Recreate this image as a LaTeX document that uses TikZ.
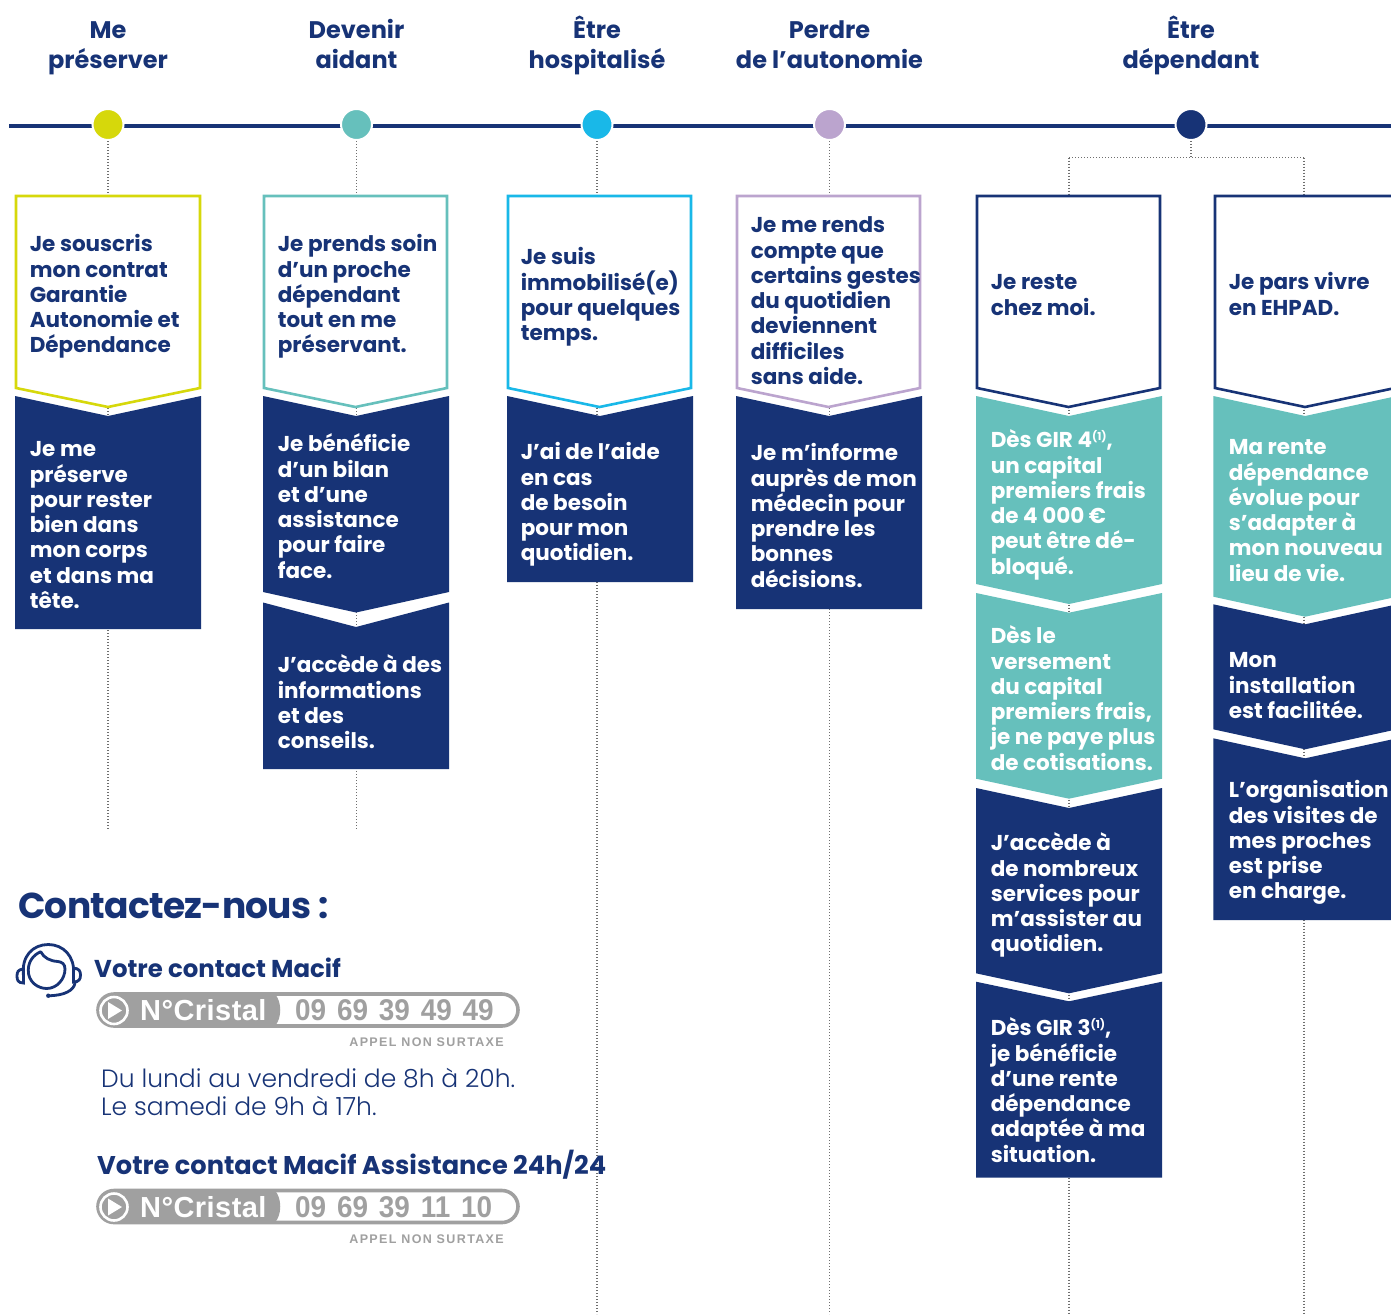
\documentclass[tikz,border=0pt]{standalone}
\usepackage{fontspec}
\setmainfont{Poppins}
\newfontfamily\hd{Poppins}
\newfontfamily\hdt[LetterSpace=-2]{Poppins}
\newfontfamily\lt{Poppins Light}
\newfontfamily\arn[LetterSpace=1.5]{Liberation Sans}
\newfontfamily\ard[WordSpace=1.4,FakeStretch=0.93]{Liberation Sans}
\newfontfamily\arsp[LetterSpace=11]{Liberation Sans}
\definecolor{navy}{HTML}{173376}
\definecolor{cyel}{HTML}{D6D80B}
\definecolor{cteal}{HTML}{66C0BC}
\definecolor{ccyan}{HTML}{19B8E8}
\definecolor{clil}{HTML}{BBA4CE}
\definecolor{cgry}{HTML}{A0A0A0}
\definecolor{cdot}{HTML}{6E6E6E}
\tikzset{
  x=1pt,y=-1pt,
  txt/.style={anchor=north west,inner sep=0pt,align=left,font={\hd\bfseries\fontsize{21.5}{25.3}\selectfont}},
  hdr/.style={anchor=north,inner sep=0pt,align=center,font={\hd\bfseries\fontsize{24}{30}\selectfont},text=navy},
  dotl/.style={cdot,line width=1.1pt,dash pattern=on 1.1pt off 1.9pt},
  mk/.style={circle,inner sep=0pt,minimum size=31pt,draw=white,line width=2pt},
}
\newcommand\outl[7]{%
  \draw[#4,line width=2.6pt,fill=white,line join=miter] (#2,196)--(#3,196)--(#3,388)--({(#2+#3)/2},407)--(#2,388)--cycle;
  \coordinate (#1t) at ({(#2+#3)/2},196);
  \node[txt,text=navy] (#1) at ({#6-0.4},{#5-17.5}) {\rule{0pt}{18pt}#7};}
\newcommand\sol[9]{%
  \fill[#4] (#2,#5)--({(#2+#3)/2},#6)--(#3,#5)--(#3,#7)--({(#2+#3)/2},#8)--(#2,#7)--cycle;
  \coordinate (#1b) at ({(#2+#3)/2},#8);
  \def\tname{#1}\def\tbase{#9}\soltext}
\newcommand\soltext[2]{\node[txt,text=white] (\tname) at ({#1-0.4},{\tbase-17.5}) {\rule{0pt}{18pt}#2};}
\newcommand\sq{\raisebox{7pt}[0pt][0pt]{\fontsize{11}{11}\selectfont(1)}}
\newcommand\pill[3]{%
  \draw[cgry,line width=3.6pt,fill=white,rounded corners=16pt] (98,#1) rectangle (518,{#1+32});
  \fill[cgry,rounded corners=16pt] (98,#1) -- (98,{#1+32}) -- (200,{#1+32}) -- (200,#1) -- cycle;
  \fill[cgry] (190,#1) -- (275,#1) .. controls (282,{#1+8}) and (282,{#1+24}) .. (275,{#1+32}) -- (190,{#1+32}) -- cycle;
  \draw[white,line width=2.6pt] (114,{#1+16.5}) circle (13.5);
  \fill[white] (108,{#1+8}) -- (122,{#1+16.5}) -- (108,{#1+25}) -- cycle;
  \node[inner sep=0,anchor=base west,text=white,font={\arn\bfseries\fontsize{29}{30}\selectfont}] (#3a) at (140,{#1+26.5}) {N°Cristal};
  \node[inner sep=0,anchor=base west,text=cgry,font={\ard\bfseries\fontsize{30}{30}\selectfont}] (#3b) at (295,{#1+26.5}) {#2};
  \node[inner sep=0,anchor=base east,text=cgry,font={\arsp\bfseries\fontsize{12.5}{13}\selectfont}] (#3c) at (504,{#1+52.5}) {APPEL NON SURTAXE};}
\begin{document}
\begin{tikzpicture}
\useasboundingbox (0,0) rectangle (1391,1314);
\clip (0,0) rectangle (1391,1314);
\fill[white] (0,0) rectangle (1391,1314);
\coordinate (tl0) at (9,125.5);
\coordinate (tl1) at (1391,125.5);
\node[mk] (m1) at (108,124.5) {};
\node[mk] (m2) at (356.5,124.5) {};
\node[mk] (m3) at (597,124.5) {};
\node[mk] (m4) at (829.5,124.5) {};
\node[mk] (m5) at (1191,124.5) {};
\coordinate (j5) at (1191,157.5);
\coordinate (j5a) at (1069,157.5);
\coordinate (j5b) at (1304,157.5);
\coordinate (e1) at (108,830);
\coordinate (e2) at (356.5,830);
\coordinate (e3) at (597,1314);
\coordinate (e4) at (829.5,1314);
\coordinate (e5) at (1069,1314);
\coordinate (e6) at (1304,1314);
\draw[dotl] (m1) -- (e1);
\draw[dotl] (m2) -- (e2);
\draw[dotl] (m3) -- (e3);
\draw[dotl] (m4) -- (e4);
\draw[dotl] (m5) -- (j5) (j5a) -- (j5b) (j5a) -- (e5) (j5b) -- (e6);
\draw[navy,line width=4pt] (tl0) -- (tl1);
\node[mk,fill=cyel] at (m1) {};
\node[mk,fill=cteal] at (m2) {};
\node[mk,fill=ccyan] at (m3) {};
\node[mk,fill=clil] at (m4) {};
\node[mk,fill=navy] at (m5) {};
% headers
\node[hdr] (h1) at (108,12) {\rule{0pt}{26pt}Me\\préserver};
\node[hdr] (h2) at (356.5,12) {\rule{0pt}{26pt}Devenir\\aidant};
\node[hdr] (h3) at (597,12) {\rule{0pt}{26pt}Être\\hospitalisé};
\node[hdr] (h4) at (829.5,12) {\rule{0pt}{26pt}Perdre\\de l’autonomie};
\node[hdr] (h5) at (1191,12) {\rule{0pt}{26pt}Être\\dépendant};
% column 1
\outl{a1}{16}{200}{cyel}{251}{30}{Je souscris\\mon contrat\\Garantie\\Autonomie et\\Dépendance}
\sol{a2}{15}{201}{navy}{396}{416}{629}{629}{456}{30}{Je me\\préserve\\pour rester\\bien dans\\mon corps\\et dans ma\\tête.}
% column 2
\outl{b1}{264}{447}{cteal}{251}{278}{Je prends soin\\d’un proche\\dépendant\\tout en me\\préservant.}
\sol{b2}{263}{449}{navy}{396}{416}{592}{612.5}{451}{278}{Je bénéficie\\d’un bilan\\et d’une\\assistance\\pour faire\\face.}
\sol{b3}{263}{449}{navy}{602.5}{627}{769}{769}{672}{278}{J’accède à des\\informations\\et des\\conseils.}
% column 3
\outl{d1}{508}{691}{ccyan}{264}{521}{Je suis\\immobilisé(e)\\pour quelques\\temps.}
\sol{d2}{507}{693}{navy}{396}{416}{582}{582}{459}{521}{J’ai de l’aide\\en cas\\de besoin\\pour mon\\quotidien.}
% column 4
\outl{f1}{737}{920}{clil}{232}{751}{Je me rends\\compte que\\certains gestes\\du quotidien\\deviennent\\difficiles\\sans aide.}
\sol{f2}{736}{922}{navy}{396}{416}{609}{609}{460}{751}{Je m’informe\\auprès de mon\\médecin pour\\prendre les\\bonnes\\décisions.}
% column 5
\outl{g1}{977}{1160}{navy}{289}{991}{Je reste\\chez moi.}
\sol{g2}{976}{1162}{cteal}{396}{416}{584}{604}{447}{991}{Dès GIR 4\sq,\\un capital\\premiers frais\\de 4 000 €\\peut être dé-\\bloqué.}
\sol{g3}{976}{1162}{cteal}{593}{612.7}{778.7}{798.7}{643}{991}{Dès le\\versement\\du capital\\premiers frais,\\je ne paye plus\\de cotisations.}
\sol{g4}{976}{1162}{navy}{788}{808}{973.3}{993.3}{850}{991}{J’accède à\\de nombreux\\services pour\\m’assister au\\quotidien.}
\sol{g5}{976}{1162}{navy}{981.7}{1001.3}{1177.7}{1177.7}{1035}{991}{Dès GIR 3\sq,\\je bénéficie\\d’une rente\\dépendance\\adaptée à ma\\situation.}
% column 6
\outl{k1}{1215}{1395}{navy}{289}{1229}{Je pars vivre\\en EHPAD.}
\sol{k2}{1213.3}{1397}{cteal}{396}{416}{596.7}{616.7}{454}{1229}{Ma rente\\dépendance\\évolue pour\\s’adapter à\\mon nouveau\\lieu de vie.}
\sol{k3}{1213.3}{1397}{navy}{604.3}{624.3}{729.3}{749.3}{667}{1229}{Mon\\installation\\est facilitée.}
\sol{k4}{1213.3}{1397}{navy}{738.3}{758.3}{920}{920}{797}{1229}{L’organisation\\des visites de\\mes proches\\est prise\\en charge.}
% contact
\node[inner sep=0,anchor=base west,text=navy,font={\hdt\bfseries\fontsize{36}{40}\selectfont}] (ct) at (18,918) {Contactez-nous :};
\node[inner sep=0,anchor=base west,text=navy,font={\hd\bfseries\fontsize{24.4}{30}\selectfont}] (c1t) at (94,977) {Votre contact Macif};
\pill{994}{09 69 39 49 49}{p1}
\node[txt,text=navy,font={\lt\fontsize{25}{28}\selectfont}] (hrs) at (101,1067) {\rule{0pt}{20pt}Du lundi au vendredi de 8h à 20h.\\Le samedi de 9h à 17h.};
\node[inner sep=0,anchor=base west,text=navy,font={\hd\bfseries\fontsize{25.65}{30}\selectfont}] (c2t) at (97,1174) {Votre contact Macif Assistance 24h/24};
\pill{1190.5}{09 69 39 11 10}{p2}
% icon
\begin{scope}[navy,line width=2.8pt,line cap=round]
\draw (23.5,976) .. controls (21,956) and (33,944.5) .. (48.3,944.5) .. controls (63,944.5) and (75,956) .. (73.5,974);
\draw (40.7,951.7) .. controls (33,955) and (28.3,962) .. (28.3,970) .. controls (28,982) and (38,988.5) .. (46.7,988.5) .. controls (57,988.5) and (65,979) .. (65,969) .. controls (65,964) and (62,962) .. (58,961.5) .. controls (50,961) and (44,958) .. (40.7,951.7);
\draw (23.5,969) .. controls (18,969.5) and (17,972) .. (17,976) .. controls (17,980) and (18,983) .. (23.5,983) -- cycle;
\draw (73.5,968) .. controls (79,968.5) and (80.5,971) .. (80.5,975) .. controls (80.5,979) and (79,982) .. (73.5,982) -- cycle;
\draw (75,983) .. controls (74,990) and (65,995.7) .. (48.3,995.7);
\fill (48.3,995.7) circle (2.2);
\end{scope}
\end{tikzpicture}
\end{document}
